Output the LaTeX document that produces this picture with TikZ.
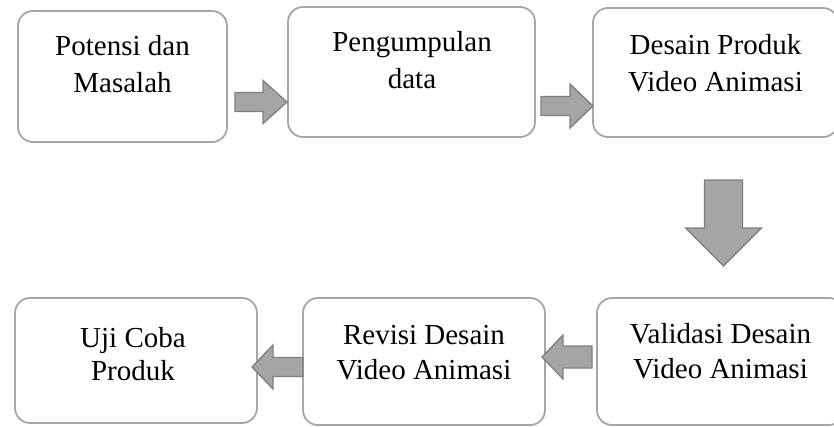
\documentclass[tikz,border=0pt]{standalone}
\usepackage{fontspec}
\setmainfont{Liberation Serif}
\usetikzlibrary{calc}

\definecolor{boxgray}{HTML}{A6A6A6}
\definecolor{arrowfill}{HTML}{A5A5A5}
\definecolor{arrowdraw}{HTML}{7F7F7F}

% block arrow: tail, tip, shaft half width, head half width, head length
\newcommand{\blockarrow}[5]{%
  \coordinate (ba-h) at ($(#2)!#5!(#1)$);
  \filldraw[barrow] ($(#1)!#3!90:(#2)$) -- ($(ba-h)!#3!90:(#2)$) -- ($(ba-h)!#4!90:(#2)$)
    -- (#2) -- ($(ba-h)!#4!-90:(#2)$) -- ($(ba-h)!#3!-90:(#2)$) -- ($(#1)!#3!-90:(#2)$) -- cycle;
}

\begin{document}
\begin{tikzpicture}[x=1pt,y=-1pt,
  stepbox/.style={draw=boxgray,line width=1.8pt,fill=white,rounded corners=15pt,inner sep=0pt},
  steptext/.style={font=\fontsize{29pt}{36.5pt}\selectfont,align=center,anchor=base,inner sep=0pt},
  barrow/.style={fill=arrowfill,draw=arrowdraw,line width=1.3pt,line join=miter}]

\useasboundingbox (0,0) rectangle (834,426);
\clip (0,0) rectangle (834,426);

% top row
\node[stepbox,minimum width=209pt,minimum height=131pt] (potensi) at (122.5,76.5) {};
\node[stepbox,minimum width=247pt,minimum height=130pt] (pengumpulan) at (411.5,72) {};
\node[stepbox,minimum width=245pt,minimum height=129pt] (desain) at (715.5,72.5) {};

% bottom row
\node[stepbox,minimum width=242pt,minimum height=125pt] (ujicoba) at (136,360.5) {};
\node[stepbox,minimum width=242pt,minimum height=127pt] (revisi) at (424,361.5) {};
\node[stepbox,minimum width=247pt,minimum height=127pt] (validasi) at (720.5,361.5) {};

% texts, placed at the baseline of their last line
\node[steptext] (potensi-t) at (122.5,92) {Potensi dan\\Masalah};
\node[steptext] (pengumpulan-t) at (412,88) {Pengumpulan\\data};
\node[steptext] (desain-t) at (715.5,91) {Desain Produk\\Video Animasi};
\node[steptext,font=\fontsize{29pt}{33pt}\selectfont] (ujicoba-t) at (133,380) {Uji Coba\\Produk};
\node[steptext,font=\fontsize{29pt}{35pt}\selectfont] (revisi-t) at (424,379) {Revisi Desain\\Video Animasi};
\node[steptext,font=\fontsize{29pt}{35pt}\selectfont] (validasi-t) at (720.5,378) {Validasi Desain\\Video Animasi};

\coordinate (a1) at (235,102);
\coordinate (b1) at (287,102);
\coordinate (a2) at (541,106);
\coordinate (b2) at (593,106);
\coordinate (a3) at (723.5,180);
\coordinate (b3) at (723.5,266);
\coordinate (a4) at (592,357);
\coordinate (b4) at (542,357);
\coordinate (a5) at (303,367);
\coordinate (b5) at (252,367);

\blockarrow{a1}{b1}{9.5pt}{21.5pt}{24pt}
\blockarrow{a2}{b2}{9.5pt}{22pt}{23pt}
\blockarrow{a3}{b3}{19pt}{38pt}{38pt}
\blockarrow{a4}{b4}{11pt}{22pt}{21pt}
\blockarrow{a5}{b5}{9.5pt}{22pt}{21pt}
\end{tikzpicture}
\end{document}
